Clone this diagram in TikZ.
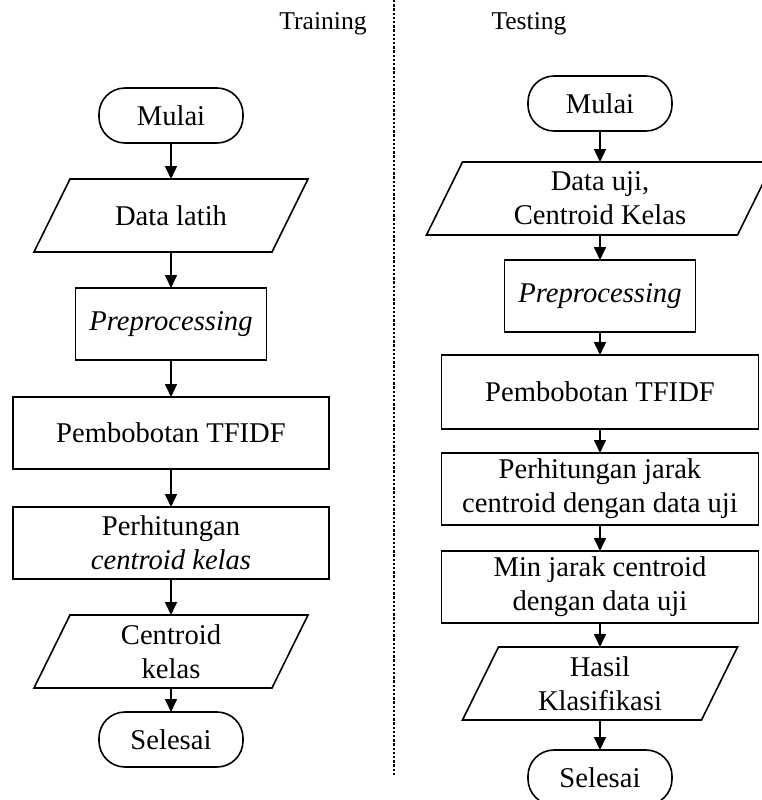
\documentclass[tikz,border=0pt]{standalone}
\usepackage{fontspec}
\setmainfont{Liberation Serif}
\usetikzlibrary{arrows.meta,positioning,shapes.geometric}
\tikzset{
  terminal/.style={draw,line width=0.8pt,rounded corners=13pt,minimum width=72pt,
    minimum height=27.5pt,outer sep=0pt,align=center,font=\fontsize{14.3}{17}\selectfont},
  process/.style={draw,line width=0.8pt,minimum height=36pt,inner xsep=1pt,
    inner ysep=0pt,outer sep=0pt,align=center,font=\fontsize{14.3}{17}\selectfont},
  io/.style={minimum height=36.5pt,inner xsep=1pt,inner ysep=0pt,outer sep=0pt,
    align=center,font=\fontsize{14.3}{17}\selectfont},
  ioframe/.style={draw,line width=0.8pt,line join=miter},
  arrow/.style={-{Triangle[width=6pt,length=6.5pt]},line width=0.8pt},
  lane/.style={dash pattern=on 1.2pt off 0.9pt,line width=0.8pt},
  heading/.style={font=\fontsize{12.8}{15}\selectfont}
}

\begin{document}
\begin{tikzpicture}[node distance=18pt]
      \useasboundingbox (0,0) rectangle (381pt,-400pt);
      \node[heading] (trlbl) at (161.5pt,-12pt) {Training};
      \node[heading] (tslbl) at (264.5pt,-12pt) {Testing};
      \coordinate (laneTop) at (197pt,0);
      \coordinate (laneBot) at (197pt,-387.5pt);
      \draw[lane] (laneTop) -- (laneBot);
      % training
      \node[terminal] (tr0) at (85.5pt,-57.75pt) {Mulai};
      \node[io,minimum width=119pt,below=of tr0] (tr1) {Data latih};
      \node[process,minimum width=95.5pt,below=of tr1] (tr2) {\textit{Preprocessing}};
      \node[process,minimum width=158pt,below=18.5pt of tr2] (tr3) {Pembobotan TFIDF};
      \node[process,minimum width=158pt,below=19pt of tr3] (tr4) {Perhitungan\\\textit{centroid kelas}};
      \node[io,minimum width=119pt,below=of tr4] (tr5) {Centroid\\kelas};
      \node[terminal,below=12pt of tr5] (tr6) {Selesai};
      % testing
      \node[terminal] (ts0) at (300pt,-51.75pt) {Mulai};
      \node[io,minimum width=155.5pt,below=15.5pt of ts0] (ts1) {Data uji,\\Centroid Kelas};
      \node[process,minimum width=95.5pt,below=12.5pt of ts1] (ts2) {\textit{Preprocessing}};
      \node[process,minimum width=158.5pt,minimum height=37pt,below=11.5pt of ts2] (ts3) {Pembobotan TFIDF};
      \node[process,minimum width=158.5pt,below=12pt of ts3] (ts4) {Perhitungan jarak\\centroid dengan data uji};
      \node[process,minimum width=158.5pt,below=13pt of ts4] (ts5) {Min jarak centroid\\dengan data uji};
      \node[io,minimum width=119.5pt,below=12pt of ts5] (ts6) {Hasil\\Klasifikasi};
      \node[terminal,below=15pt of ts6] (ts7) {Selesai};
      % slanted frames of the data nodes
      \foreach \n in {tr1,tr5,ts1,ts6}
        \draw[ioframe] ([xshift=9pt]\n.north west) -- ([xshift=9pt]\n.north east)
          -- ([xshift=-9pt]\n.south east) -- ([xshift=-9pt]\n.south west) -- cycle;
      \foreach \a/\b in {tr0/tr1,tr1/tr2,tr2/tr3,tr3/tr4,tr4/tr5,tr5/tr6,
        ts0/ts1,ts1/ts2,ts2/ts3,ts3/ts4,ts4/ts5,ts5/ts6,ts6/ts7}
        \draw[arrow] (\a) -- (\b);
    \end{tikzpicture}
\end{document}
